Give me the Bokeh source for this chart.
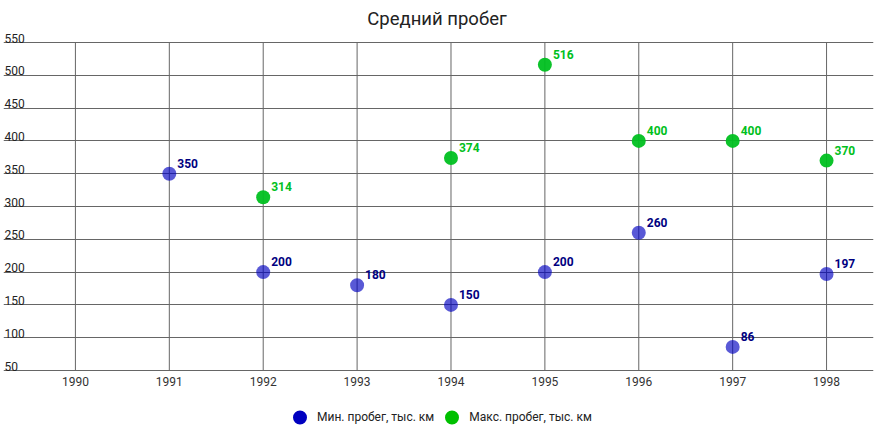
import numpy as np
from bokeh.plotting import figure
from bokeh.models import ColumnDataSource, Legend, LegendItem, FixedTicker, Range1d, Label
from bokeh.core.properties import value
from bokeh.embed import file_html
from bokeh.resources import INLINE

years = [1990, 1991, 1992, 1993, 1994, 1995, 1996, 1997, 1998]
min_years = [1991, 1992, 1993, 1994, 1995, 1996, 1997, 1998]
min_vals = [350, 200, 180, 150, 200, 260, 86, 197]
max_years = [1992, 1994, 1995, 1996, 1997, 1998]
max_vals = [314, 374, 516, 400, 400, 370]
y_ticks = [50, 100, 150, 200, 250, 300, 350, 400, 450, 500, 550]
title_text = "Средний пробег"
min_name = "Мин. пробег, тыс. км"
max_name = "Макс. пробег, тыс. км"

FONT = "Roboto"
MIN_COLOR = "#0000c0"
MAX_COLOR = "#00c020"
GRID = "#666666"

# the frame fills the whole height: 550 line 42 px below the top, 50 line 62 px above the bottom
PX_PER_50 = 32.8
x0, x1 = 1989.234, 1998.5
y_lo, y_hi = y_ticks[0], y_ticks[-1]
y_bottom = y_lo - 62 * 50 / PX_PER_50
y_top = y_hi + 42 * 50 / PX_PER_50

p = figure(width=876, height=432, output_backend="svg", toolbar_location=None,
           x_range=Range1d(x0, x1), y_range=Range1d(y_bottom, y_top),
           min_border_left=3, min_border_right=3, min_border_top=0, min_border_bottom=0)
p.outline_line_color = None
p.xaxis.visible = False
p.yaxis.visible = False
p.xgrid.visible = False
p.ygrid.ticker = FixedTicker(ticks=y_ticks)
p.ygrid.grid_line_color = GRID

# title
p.add_layout(Label(x=433.5, y=414, x_units="screen", y_units="screen", text=title_text,
                   text_font=FONT, text_font_size="18.5px", text_color="#222222",
                   text_align="center", text_baseline="alphabetic"))

# vertical grid lines between the lowest and highest gridline
p.segment(x0=years, y0=[y_lo] * len(years), x1=years, y1=[y_hi] * len(years),
          line_color=GRID, line_width=1)

# y labels above gridlines
ysrc = ColumnDataSource(dict(x=[x0] * len(y_ticks), y=y_ticks, t=[str(v) for v in y_ticks]))
p.text(x="x", y="y", text="t", source=ysrc, text_font=value(FONT), text_font_size="12px",
       text_color="#222222", text_baseline="bottom", text_align="left", x_offset=1, y_offset=0)

# x labels under the lowest gridline
xsrc = ColumnDataSource(dict(x=years, y=[y_lo] * len(years), t=[str(v) for v in years]))
p.text(x="x", y="y", text="t", source=xsrc, text_font=value(FONT), text_font_size="12px",
       text_color="#333333", text_baseline="top", text_align="center", y_offset=6)

smin = ColumnDataSource(dict(x=min_years, y=min_vals, t=[str(v) for v in min_vals]))
smax = ColumnDataSource(dict(x=max_years, y=max_vals, t=[str(v) for v in max_vals]))

p.scatter(x="x", y="y", source=smin, size=14, fill_color=MIN_COLOR, fill_alpha=0.65,
          line_color=None)
p.scatter(x="x", y="y", source=smax, size=14, fill_color=MAX_COLOR, fill_alpha=0.95,
          line_color=None)
p.text(x="x", y="y", text="t", source=smin, text_font=value(FONT), text_font_size="12px",
       text_font_style="bold", text_color="#000080", x_offset=8, y_offset=-6,
       text_baseline="bottom", text_align="left")
p.text(x="x", y="y", text="t", source=smax, text_font=value(FONT), text_font_size="12px",
       text_font_style="bold", text_color=MAX_COLOR, x_offset=8, y_offset=-6,
       text_baseline="bottom", text_align="left")

nan_src = ColumnDataSource(dict(x=np.array([np.nan]), y=np.array([np.nan])))
lmin = p.scatter(x="x", y="y", source=nan_src, size=14, fill_color=MIN_COLOR, line_color=None)
lmax = p.scatter(x="x", y="y", source=nan_src, size=14, fill_color="#00c000", line_color=None)
legend = Legend(items=[LegendItem(label=min_name, renderers=[lmin]),
                       LegendItem(label=max_name, renderers=[lmax])],
                orientation="horizontal", location=(279, -5),
                label_text_font=FONT, label_text_font_size="12px", label_text_color="#222222",
                border_line_color=None, background_fill_alpha=0,
                glyph_width=35, glyph_height=40, spacing=-6,
                margin=0, padding=0, label_standoff=0)
p.add_layout(legend, "center")

open("out.html", "w").write(file_html(p, INLINE))
